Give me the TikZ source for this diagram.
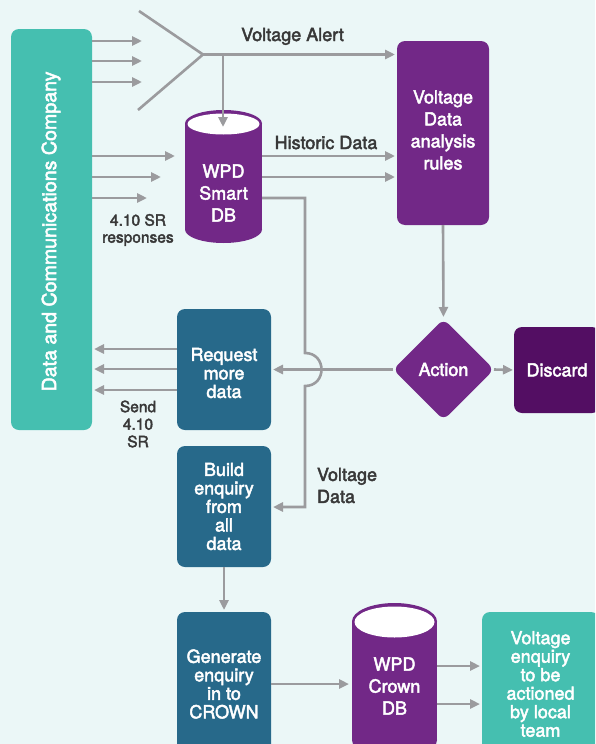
\documentclass[tikz,border=0pt]{standalone}
\usepackage{fontspec}
\setmainfont{TeX Gyre Heros}[FakeBold=2.5]
\usetikzlibrary{arrows.meta,shapes.geometric,calc}
\definecolor{bgc}{HTML}{EBF7F7}
\definecolor{tealc}{HTML}{45BFB0}
\definecolor{purc}{HTML}{722887}
\definecolor{dpurc}{HTML}{530E63}
\definecolor{bluc}{HTML}{27698A}
\definecolor{gry}{HTML}{9B9B9E}
\definecolor{txtc}{HTML}{383838}
\newcommand\boxfnt{\fontsize{18}{18.5}\selectfont}
\newcommand\dbfnt{\fontsize{18}{22}\selectfont}
\newcommand\lblfnt{\fontsize{18}{22}\selectfont}
\newcommand\smlfnt{\fontsize{15.5}{17}\selectfont}
\begin{document}
\begin{tikzpicture}[x=1pt,y=-1pt,
  every node/.style={inner sep=0pt, outer sep=0pt},
  conn/.style={draw=gry, line width=2.6pt},
  arr/.style={conn, -{Triangle[length=10pt,width=9pt]}},
  boxbase/.style={rounded corners=8pt, text=white, align=center, font=\boxfnt},
  tealbox/.style={boxbase, fill=tealc},
  bluebox/.style={boxbase, fill=bluc},
  purpbox/.style={boxbase, fill=purc},
  wtxt/.style={text=white, align=center, font=\boxfnt},
  lbl/.style={text=txtc, align=center, font=\lblfnt},
  slbl/.style={text=txtc, align=center, font=\smlfnt}]
\fill[bgc] (0,0) rectangle (595,744);
\useasboundingbox (0,0) rectangle (595,744);
\clip (0,0) rectangle (595,744);

% boxes
\node[tealbox, minimum width=81pt, minimum height=401pt] (dcc) at (51.5,229.5) {};
\node[rotate=90, text=white, font=\fontsize{19.6}{22}\selectfont] (dcctxt) at (51,231.5) {Data and Communications Company};
\node[purpbox, minimum width=92pt, minimum height=184pt] (rules) at (443,133) {};
\node[wtxt, font=\dbfnt] (rulestxt) at (443,130) {Voltage\\Data\\analysis\\rules};
\node[bluebox, minimum width=94pt, minimum height=121pt] (req) at (224,369.5) {};
\node[wtxt] (reqtxt) at (224,373) {Request\\more\\data};
\node[bluebox, minimum width=94pt, minimum height=121pt] (build) at (224,506.5) {Build\\enquiry\\from\\all\\data};
\node[bluebox, minimum width=94pt, minimum height=144pt] (gen) at (224,684) {Generate\\enquiry\\in to\\CROWN};
\node[tealbox, minimum width=117pt, minimum height=144pt] (venq) at (540.5,684) {Voltage\\enquiry\\to be\\actioned\\by local\\team};
\node[boxbase, fill=dpurc, minimum width=86pt, minimum height=86pt] (disc) at (557,370) {Discard};
\node[diamond, aspect=1, fill=purc, rounded corners=7pt, minimum width=101pt, minimum height=101pt, text=white, font=\boxfnt] (act) at (443.5,369.5) {Action};

% cylinder Smart DB
\fill[purc] (185,123.5) rectangle (262,229.5);
\fill[purc] (223.5,229.5) ellipse [x radius=38.5pt, y radius=13.5pt];
\fill[purc] (223.5,123.5) ellipse [x radius=38.5pt, y radius=13.5pt];
\fill[white] (223.5,124) ellipse [x radius=36pt, y radius=10.5pt];
\node[minimum width=77pt, minimum height=133pt] (smart) at (223.5,176.5) {};
\node[wtxt, font=\dbfnt] (smarttxt) at (223.5,193) {WPD\\Smart\\DB};

% cylinder Crown DB
\fill[purc] (352,621.5) rectangle (437,740);
\fill[purc] (394.5,740) ellipse [x radius=42.5pt, y radius=18pt];
\fill[purc] (394.5,621.5) ellipse [x radius=42.5pt, y radius=18.5pt];
\fill[white] (394.5,622) ellipse [x radius=40pt, y radius=15.5pt];
\node[minimum width=85pt, minimum height=150pt] (crown) at (394.5,678) {};
\node[wtxt, font=\dbfnt] (crowntxt) at (394.5,686) {WPD\\Crown\\DB};

% funnel
\coordinate (f1) at (142,41);
\coordinate (f2) at (142,61);
\coordinate (f3) at (142,82);
\foreach \c in {f1,f2,f3} \draw[arr] (dcc.east |- \c) -- (\c);
\coordinate (fa) at (139,11);
\coordinate (fb) at (138,110);
\coordinate (fj) at (203,54.5);
\draw[conn, line join=round] (fa) -- (fj) -- (fb);
\draw[arr, shorten >=2pt] (fj) -- (rules.west |- fj);
\coordinate (fd) at (223,54.5);
\coordinate (stop) at (223,127);
\draw[arr] (fd) -- (stop);

% into Smart DB
\coordinate (s1) at (175,156);
\coordinate (s2) at (161,177);
\coordinate (s3) at (147,198);
\foreach \c in {s1,s2,s3} \draw[arr] (dcc.east |- \c) -- (\c);
\draw[arr, shorten >=2pt] (smart.east |- s1) -- (rules.west |- s1);
\draw[arr, shorten >=2pt] (smart.east |- s2) -- (rules.west |- s2);

% voltage data path with bump
\coordinate (vd1) at (305,198);
\coordinate (bumpa) at (305,353);
\coordinate (bumpb) at (305,386);
\coordinate (vd2) at (305,507);
\draw[arr, shorten >=2pt] (smart.east |- s3) -- (vd1) -- (bumpa) .. controls +(22,0) and +(22,0) .. (bumpb) -- (vd2) -- (build.east |- vd2);

% decision
\draw[arr, shorten >=2pt] (rules.south) -- (act.north);
\draw[arr, shorten >=1pt] (act.east) -- (disc.west);
\draw[arr, shorten >=2pt] (act.west) -- (req.east);

% request to dcc
\coordinate (r1) at (94,349);
\coordinate (r2) at (94,369);
\coordinate (r3) at (94,390);
\foreach \c in {r1,r2,r3} \draw[arr] (req.west |- \c) -- (\c);

% lower flow
\draw[arr, shorten >=2pt] (build.south) -- (gen.north);
\coordinate (g1) at (gen.east);
\draw[arr, shorten >=3pt] (g1) -- (crown.west |- g1);
\coordinate (c1) at (480,666);
\coordinate (c2) at (480,704);
\foreach \c in {c1,c2} \draw[arr] (crown.east |- \c) -- (\c);

% labels
\node[lbl, anchor=base] (lalert) at (292.5,41) {Voltage Alert};
\node[lbl, anchor=base] (lhist) at (326,149) {Historic Data};
\node[slbl] (lresp) at (138,230) {4.10 SR\\responses};
\node[slbl, font=\fontsize{15.5}{17.5}\selectfont] (lsend) at (138,424) {Send\\4.10\\SR};
\node[lbl, align=left, anchor=west] (lvd) at (317,485.5) {Voltage\\Data};
\end{tikzpicture}
\end{document}
